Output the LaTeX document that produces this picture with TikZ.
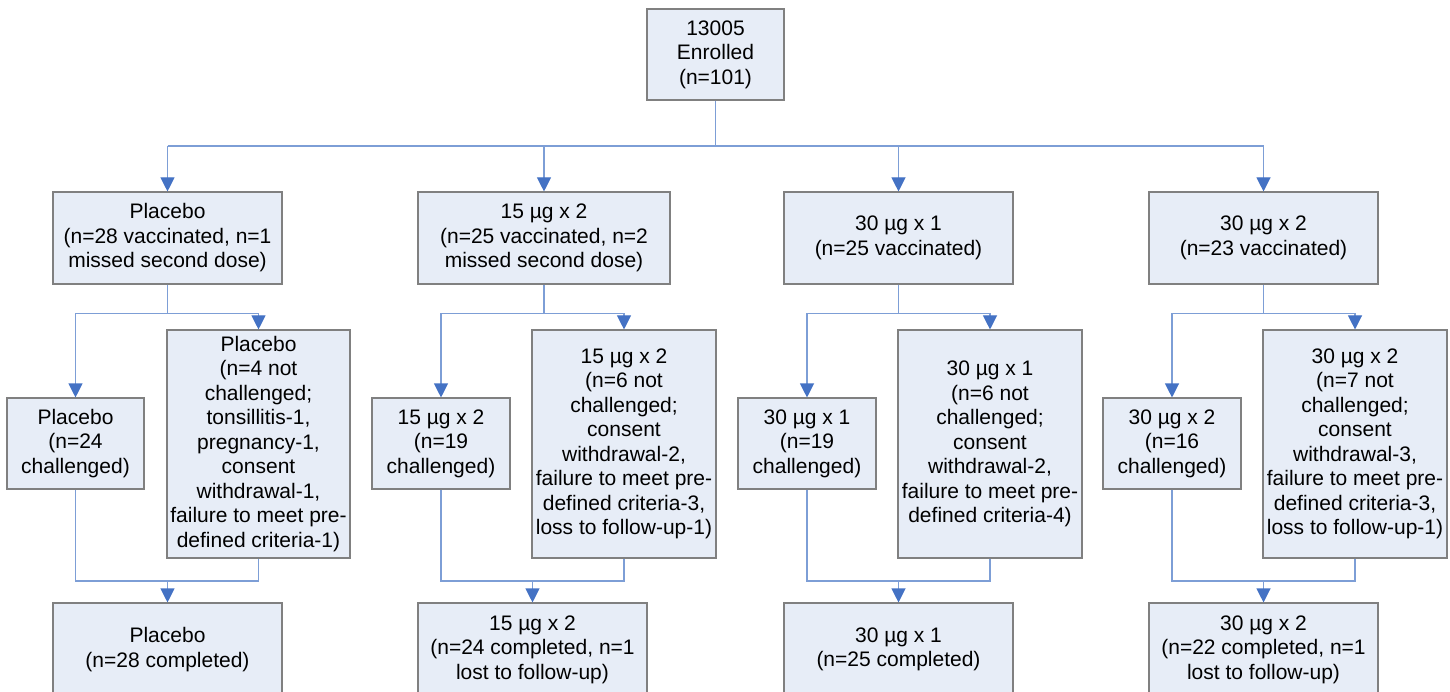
\documentclass[tikz,border=0pt]{standalone}
\usepackage{fontspec}
\setmainfont{Liberation Sans}
\usetikzlibrary{arrows.meta,calc}
\definecolor{boxfill}{RGB}{231,237,247}
\definecolor{boxline}{RGB}{128,128,128}
\definecolor{lineblue}{RGB}{125,158,214}
\definecolor{headblue}{RGB}{68,114,196}
\begin{document}
\begin{tikzpicture}[x=1pt,y=-1pt,
  box/.style={draw=boxline,fill=boxfill,line width=1.1pt,inner sep=0pt,align=center,
    font=\fontsize{21}{24.5}\selectfont},
  ln/.style={draw=lineblue,line width=1.1pt},
  arr/.style={ln,-{Triangle[width=14pt,length=14pt,color=headblue,fill=headblue]}}]
\useasboundingbox (0,0) rectangle (1450,692);
\clip (0,0) rectangle (1450,692);
% top
\node[box,minimum width=137pt,minimum height=91pt] (top) at (715.5,54.5) {13005\\Enrolled\\(n=101)};
% group boxes
\node[box,minimum width=229pt,minimum height=92pt] (g1) at (167.5,238) {Placebo\\(n=28 vaccinated, n=1\\missed second dose)};
\node[box,minimum width=252pt,minimum height=92pt] (g2) at (544,238) {15 µg x 2\\(n=25 vaccinated, n=2\\missed second dose)};
\node[box,minimum width=229pt,minimum height=92pt] (g3) at (898.5,238) {30 µg x 1\\(n=25 vaccinated)};
\node[box,minimum width=229pt,minimum height=92pt] (g4) at (1263.5,238) {30 µg x 2\\(n=23 vaccinated)};
% challenged boxes
\node[box,minimum width=137pt,minimum height=91pt] (s1) at (75.5,443.5) {Placebo\\(n=24\\challenged)};
\node[box,minimum width=138pt,minimum height=91pt] (s2) at (441,443.5) {15 µg x 2\\(n=19\\challenged)};
\node[box,minimum width=138pt,minimum height=91pt] (s3) at (807,443.5) {30 µg x 1\\(n=19\\challenged)};
\node[box,minimum width=138pt,minimum height=91pt] (s4) at (1172,443.5) {30 µg x 2\\(n=16\\challenged)};
% not challenged boxes
\node[box,minimum width=183pt,minimum height=228pt] (r1) at (258.5,444) {Placebo\\(n=4 not\\challenged;\\tonsillitis-1,\\pregnancy-1,\\consent\\withdrawal-1,\\failure to meet pre-\\defined criteria-1)};
\node[box,minimum width=184pt,minimum height=228pt] (r2) at (624,444) {15 µg x 2\\(n=6 not\\challenged;\\consent\\withdrawal-2,\\failure to meet pre-\\defined criteria-3,\\loss to follow-up-1)};
\node[box,minimum width=184pt,minimum height=228pt] (r3) at (990,444) {30 µg x 1\\(n=6 not\\challenged;\\consent\\withdrawal-2,\\failure to meet pre-\\defined criteria-4)};
\node[box,minimum width=184pt,minimum height=228pt] (r4) at (1355,444) {30 µg x 2\\(n=7 not\\challenged;\\consent\\withdrawal-3,\\failure to meet pre-\\defined criteria-3,\\loss to follow-up-1)};
% completed boxes
\node[box,minimum width=229pt,minimum height=93pt] (b1) at (167.5,649.5) {Placebo\\(n=28 completed)};
\node[box,minimum width=229pt,minimum height=93pt] (b2) at (532.5,649.5) {15 µg x 2\\(n=24 completed, n=1\\lost to follow-up)};
\node[box,minimum width=229pt,minimum height=93pt] (b3) at (898.5,649.5) {30 µg x 1\\(n=25 completed)};
\node[box,minimum width=229pt,minimum height=93pt] (b4) at (1263.5,649.5) {30 µg x 2\\(n=22 completed, n=1\\lost to follow-up)};
% bus
\coordinate (bus) at (715.5,146);
\draw[ln] (top.south) -- (bus);
\draw[ln] (g1.north |- bus) -- (g4.north |- bus);
\foreach \g in {g1,g2,g3,g4} \draw[arr] (\g.north |- bus) -- (\g.north);
% splits and merges
\foreach \i in {1,2,3,4} {
  \coordinate (sp\i) at ($(g\i.south)+(0,29)$);
  \draw[ln] (g\i.south) -- (sp\i);
  \draw[arr] (sp\i) -| (s\i.north);
  \draw[arr] (sp\i) -| (r\i.north);
  \coordinate (mg\i) at (b\i.north |- 0,581);
  \draw[ln] (s\i.south) |- (mg\i) -| (r\i.south);
  \draw[arr] (mg\i) -- (b\i.north);
}
\end{tikzpicture}
\end{document}
